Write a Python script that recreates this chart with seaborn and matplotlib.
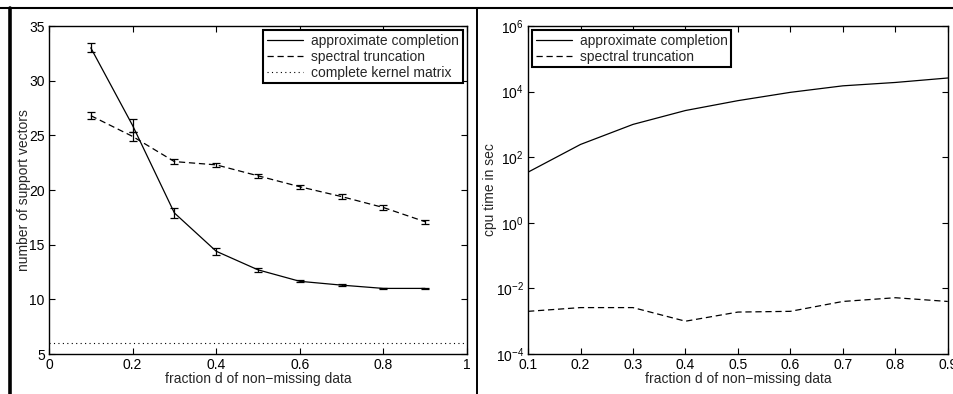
import numpy as np
import pandas as pd
import seaborn as sns
import matplotlib.pyplot as plt
from matplotlib.lines import Line2D
from matplotlib.ticker import LogLocator, NullLocator

# fraction d of non-missing data
fraction = [0.1, 0.2, 0.3, 0.4, 0.5, 0.6, 0.7, 0.8, 0.9]

# number of support vectors (mean and error bar half-width)
sv_approx = [33.0, 25.9, 17.9, 14.4, 12.7, 11.65, 11.3, 11.0, 11.0]
sv_approx_err = [0.4, 0.6, 0.5, 0.3, 0.2, 0.1, 0.1, 0.05, 0.05]
sv_spectral = [26.8, 24.9, 22.6, 22.3, 21.3, 20.3, 19.4, 18.4, 17.1]
sv_spectral_err = [0.3, 0.4, 0.25, 0.2, 0.2, 0.2, 0.25, 0.2, 0.2]
sv_complete = 6.0

# cpu time in sec
cpu_approx = [35, 245, 1000, 2650, 5300, 9500, 15000, 19000, 26000]
cpu_spectral = [0.0020, 0.0026, 0.0026, 0.0010, 0.0019, 0.0020, 0.0040, 0.0052, 0.0040]

sns.set_style("ticks")
plt.rcParams["font.family"] = ["Liberation Sans", "DejaVu Sans"]
plt.rcParams["font.size"] = 10
plt.rcParams["mathtext.fontset"] = "custom"
plt.rcParams["mathtext.rm"] = "Liberation Sans"
plt.rcParams["mathtext.it"] = "Liberation Sans:italic"
plt.rcParams["mathtext.bf"] = "Liberation Sans:bold"
plt.rcParams["xtick.direction"] = "in"
plt.rcParams["ytick.direction"] = "in"
plt.rcParams["xtick.top"] = True
plt.rcParams["ytick.right"] = True
plt.rcParams["axes.linewidth"] = 1.0
plt.rcParams["axes.edgecolor"] = "black"
plt.rcParams["xtick.color"] = "black"
plt.rcParams["ytick.color"] = "black"

fig = plt.figure(figsize=(9.54, 3.94), dpi=100)
ax1 = fig.add_axes([0.0514, 0.1015, 0.438, 0.8325])
ax2 = fig.add_axes([0.5535, 0.1015, 0.440, 0.8325])

# left panel: support vectors
df_sv = pd.DataFrame({
    "fraction": fraction * 2,
    "value": sv_approx + sv_spectral,
    "method": ["approximate completion"] * 9 + ["spectral truncation"] * 9,
})
sns.lineplot(data=df_sv, x="fraction", y="value", style="method",
             dashes={"approximate completion": "", "spectral truncation": (5, 3)},
             color="black", lw=0.9, ax=ax1, legend=False)
ax1.errorbar(fraction, sv_approx, yerr=sv_approx_err, fmt="none",
             ecolor="black", elinewidth=0.9, capsize=3, capthick=0.9)
ax1.errorbar(fraction, sv_spectral, yerr=sv_spectral_err, fmt="none",
             ecolor="black", elinewidth=0.9, capsize=3, capthick=0.9)
ax1.axhline(sv_complete, color="black", lw=0.8, ls=(0, (1, 3)))
ax1.set_xlim(0, 1)
ax1.set_ylim(5, 35)
ax1.set_xticks([0, 0.2, 0.4, 0.6, 0.8, 1])
ax1.set_xticklabels(["0", "0.2", "0.4", "0.6", "0.8", "1"])
ax1.set_yticks([5, 10, 15, 20, 25, 30, 35])
ax1.set_xlabel("fraction d of non\u2212missing data", labelpad=0)
ax1.set_ylabel("number of support vectors", labelpad=-1)
handles1 = [
    Line2D([], [], color="black", lw=0.9),
    Line2D([], [], color="black", lw=0.9, dashes=(5, 3)),
    Line2D([], [], color="black", lw=0.8, ls=(0, (1, 3))),
]
leg1 = ax1.legend(handles1, ["approximate completion", "spectral truncation",
                             "complete kernel matrix"],
                  loc="upper right", fancybox=False, framealpha=1,
                  edgecolor="black", handlelength=2.6, handletextpad=0.6,
                  borderpad=0.25, labelspacing=0.15, borderaxespad=0.3)
leg1.get_frame().set_linewidth(1.5)

# right panel: cpu time
df_cpu = pd.DataFrame({
    "fraction": fraction * 2,
    "value": cpu_approx + cpu_spectral,
    "method": ["approximate completion"] * 9 + ["spectral truncation"] * 9,
})
sns.lineplot(data=df_cpu, x="fraction", y="value", style="method",
             dashes={"approximate completion": "", "spectral truncation": (5, 3)},
             color="black", lw=0.9, ax=ax2, legend=False)
ax2.set_yscale("log")
ax2.set_xlim(0.1, 0.9)
ax2.set_ylim(1e-4, 1e6)
ax2.set_xticks(fraction)
ax2.yaxis.set_major_locator(LogLocator(base=100))
ax2.yaxis.set_minor_locator(NullLocator())
ax2.set_xlabel("fraction d of non\u2212missing data", labelpad=0)
ax2.set_ylabel("cpu time in sec", labelpad=-1)
handles2 = handles1[:2]
leg2 = ax2.legend(handles2, ["approximate completion", "spectral truncation"],
                  loc="upper left", fancybox=False, framealpha=1,
                  edgecolor="black", handlelength=2.6, handletextpad=0.6,
                  borderpad=0.25, labelspacing=0.15, borderaxespad=0.3)
leg2.get_frame().set_linewidth(1.5)

for ax in (ax1, ax2):
    ax.tick_params(length=4, width=0.8, pad=3)

# scan frame lines around the panels
fig.add_artist(Line2D([0, 1], [0.98, 0.98], transform=fig.transFigure,
                      color="black", lw=1.5))
fig.add_artist(Line2D([0.0100, 0.0100], [0, 0.98], transform=fig.transFigure,
                      color="black", lw=2.6))
fig.add_artist(Line2D([0.4995, 0.4995], [0, 0.98], transform=fig.transFigure,
                      color="black", lw=1.4))

fig.savefig("out.png", dpi=100)
